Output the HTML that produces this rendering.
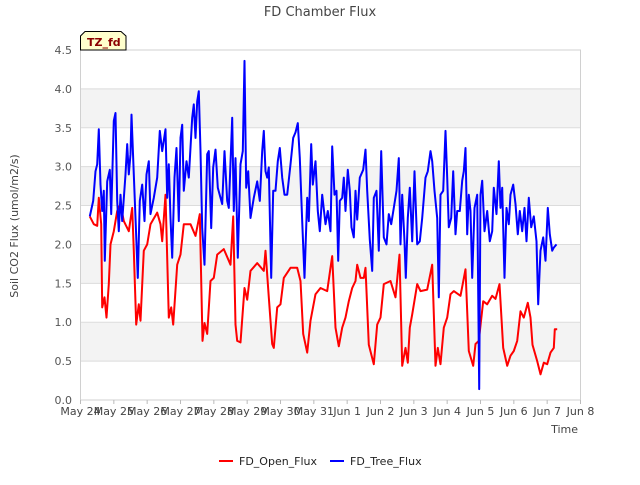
<!DOCTYPE html>
<html><head><meta charset="utf-8"><style>
body{margin:0;background:#fff;font-family:"Liberation Sans","DejaVu Sans",sans-serif;}
svg text{font-family:"DejaVu Sans","Liberation Sans",sans-serif;}
</style></head><body>
<svg id="chart" width="640" height="480" xmlns="http://www.w3.org/2000/svg">
<text x="320" y="16" text-anchor="middle" font-size="13" fill="#444">FD Chamber Flux</text>
<text transform="translate(18,226) rotate(-90)" text-anchor="middle" font-size="11" fill="#444">Soil CO2 Flux (umol/m2/s)</text>
<text x="578" y="433" text-anchor="end" font-size="11" fill="#444">Time</text>
<g id="bands"></g>
<g id="grid"></g>
<g id="yticks"></g>
<g id="xticks"></g>
<g id="series"></g>
<g>
<path d="M80.5,50 L80.5,36 L85,31.5 L121,31.5 L126,36 L126,50 Z" fill="#ffffcc" stroke="#000" stroke-width="1"/>
<text x="87" y="46" font-size="11" font-weight="bold" fill="#8b0000">TZ_fd</text>
</g>
<g>
<g><line x1="219" y1="461" x2="233" y2="461" stroke="#ff0000" stroke-width="2"/><text x="239" y="465" font-size="11" fill="#222">FD_Open_Flux</text></g>
<g><line x1="330" y1="461" x2="344" y2="461" stroke="#0000ff" stroke-width="2"/><text x="350" y="465" font-size="11" fill="#222">FD_Tree_Flux</text></g>
</g>
</svg>
<script>
const xTickLabels=["May 24","May 25","May 26","May 27","May 28","May 29","May 30","May 31","Jun 1","Jun 2","Jun 3","Jun 4","Jun 5","Jun 6","Jun 7","Jun 8"];
const yTickLabels=["0.0","0.5","1.0","1.5","2.0","2.5","3.0","3.5","4.0","4.5"];
const openDays=[0.28,0.40,0.50,0.55,0.62,0.65,0.72,0.78,0.85,0.90,1.00,1.10,1.20,1.30,1.45,1.55,1.60,1.67,1.75,1.80,1.90,2.00,2.10,2.30,2.40,2.45,2.55,2.65,2.72,2.78,2.90,3.00,3.10,3.30,3.45,3.58,3.66,3.72,3.80,3.90,4.00,4.10,4.30,4.50,4.58,4.65,4.70,4.80,4.92,5.00,5.10,5.30,5.50,5.55,5.65,5.75,5.80,5.90,6.00,6.10,6.30,6.50,6.60,6.68,6.80,6.90,7.05,7.20,7.40,7.50,7.55,7.65,7.75,7.85,7.95,8.05,8.15,8.25,8.30,8.40,8.50,8.55,8.65,8.80,8.90,9.00,9.10,9.30,9.45,9.57,9.65,9.75,9.82,9.88,9.95,10.10,10.20,10.40,10.55,10.65,10.72,10.80,10.90,11.00,11.10,11.20,11.40,11.55,11.65,11.78,11.85,11.95,12.08,12.20,12.35,12.45,12.57,12.68,12.80,12.90,13.00,13.10,13.20,13.30,13.42,13.50,13.56,13.70,13.80,13.90,14.00,14.10,14.20,14.23,14.30];
const openValues=[2.36,2.26,2.24,2.60,2.26,1.19,1.32,1.06,1.49,2.00,2.17,2.43,2.52,2.30,2.17,2.47,1.92,0.97,1.23,1.02,1.92,2.00,2.26,2.41,2.26,2.04,2.64,1.06,1.19,0.97,1.74,1.87,2.26,2.26,2.11,2.39,0.76,0.99,0.85,1.53,1.57,1.87,1.94,1.74,2.36,0.97,0.76,0.74,1.44,1.29,1.66,1.76,1.66,1.92,1.32,0.72,0.67,1.19,1.23,1.57,1.70,1.70,1.53,0.85,0.61,1.02,1.36,1.44,1.40,1.70,1.85,0.93,0.69,0.93,1.06,1.27,1.44,1.53,1.74,1.57,1.57,1.70,0.71,0.46,0.97,1.06,1.49,1.53,1.32,1.87,0.44,0.67,0.48,0.93,1.10,1.49,1.40,1.42,1.74,0.44,0.67,0.46,0.93,1.06,1.36,1.40,1.34,1.68,0.63,0.44,0.72,0.76,1.27,1.23,1.34,1.30,1.49,0.67,0.44,0.57,0.63,0.76,1.14,1.06,1.25,1.06,0.71,0.50,0.33,0.48,0.46,0.61,0.67,0.91,0.91];
const treeDays=[0.28,0.38,0.45,0.50,0.55,0.60,0.65,0.70,0.73,0.80,0.88,0.92,1.00,1.05,1.10,1.15,1.20,1.25,1.35,1.40,1.45,1.50,1.53,1.60,1.65,1.72,1.78,1.85,1.92,1.98,2.05,2.10,2.20,2.30,2.38,2.45,2.55,2.60,2.65,2.70,2.75,2.82,2.88,2.95,3.00,3.05,3.10,3.18,3.25,3.35,3.40,3.45,3.50,3.55,3.60,3.65,3.72,3.80,3.85,3.92,3.98,4.05,4.12,4.20,4.25,4.32,4.40,4.45,4.55,4.60,4.65,4.72,4.80,4.87,4.92,4.97,5.03,5.10,5.20,5.30,5.38,5.45,5.50,5.55,5.60,5.65,5.72,5.78,5.85,5.92,5.98,6.05,6.12,6.20,6.30,6.38,6.45,6.52,6.58,6.65,6.72,6.80,6.85,6.92,6.97,7.05,7.12,7.18,7.25,7.35,7.42,7.50,7.55,7.62,7.68,7.73,7.78,7.85,7.90,7.95,8.02,8.08,8.13,8.20,8.25,8.30,8.38,8.48,8.55,8.60,8.68,8.75,8.80,8.88,8.95,9.02,9.10,9.18,9.25,9.32,9.40,9.48,9.55,9.60,9.65,9.72,9.76,9.82,9.88,9.95,10.02,10.10,10.18,10.25,10.35,10.42,10.50,10.55,10.62,10.70,10.75,10.80,10.88,10.95,11.00,11.05,11.12,11.18,11.25,11.30,11.38,11.45,11.50,11.55,11.60,11.65,11.70,11.75,11.82,11.90,11.96,12.00,12.05,12.12,12.20,12.28,12.35,12.40,12.48,12.55,12.60,12.65,12.72,12.78,12.85,12.90,12.98,13.05,13.12,13.18,13.25,13.32,13.38,13.45,13.52,13.60,13.68,13.73,13.80,13.88,13.95,14.02,14.08,14.15,14.20,14.28];
const treeValues=[2.36,2.56,2.94,3.03,3.48,2.77,2.43,2.69,1.79,2.81,2.96,2.39,3.59,3.69,2.56,2.17,2.64,2.30,2.90,3.29,2.90,3.16,3.67,2.90,2.34,1.57,2.56,2.77,2.30,2.90,3.07,2.39,2.60,2.86,3.46,3.20,3.48,2.60,3.03,2.34,1.83,2.86,3.24,2.30,3.37,3.54,2.69,3.07,2.86,3.63,3.80,3.37,3.84,3.97,3.20,2.21,1.74,3.16,3.20,2.21,2.99,3.22,2.73,2.60,2.52,3.20,2.56,2.47,3.63,2.43,3.11,1.83,3.03,3.20,4.36,2.73,2.94,2.34,2.60,2.81,2.56,3.20,3.46,2.94,2.86,2.99,1.57,2.69,2.69,3.07,3.24,2.86,2.64,2.64,3.03,3.37,3.44,3.56,3.11,2.30,1.57,2.60,2.30,3.29,2.77,3.07,2.43,2.17,2.64,2.26,2.43,2.17,3.26,2.64,2.69,1.79,2.56,2.60,2.86,2.43,2.96,2.69,2.22,2.09,2.69,2.32,2.86,2.96,3.22,2.69,2.06,1.66,2.60,2.69,1.92,3.20,2.09,2.00,2.39,2.26,2.47,2.69,3.11,2.00,2.64,2.04,1.57,2.34,2.73,2.04,2.94,2.00,2.04,2.34,2.86,2.94,3.20,3.07,2.69,2.34,1.32,2.64,2.69,3.46,2.86,2.22,2.34,2.94,2.13,2.43,2.43,2.82,2.94,3.24,2.13,2.64,2.43,1.57,2.47,2.64,0.14,2.64,2.82,2.17,2.43,2.04,2.17,2.73,2.39,3.07,2.47,2.73,1.57,2.47,2.26,2.64,2.77,2.52,2.13,2.43,2.17,2.47,2.04,2.60,2.22,2.36,2.04,1.23,1.92,2.09,1.79,2.47,2.13,1.92,1.96,2.00];

const NS="http://www.w3.org/2000/svg";
const L=80.5,R=580.5,T=50,B=400;
const x=d=>L+d*(R-L)/15;
const y=v=>B-v*(B-T)/4.5;
function mk(tag,attrs,parent){const e=document.createElementNS(NS,tag);for(const k in attrs)e.setAttribute(k,attrs[k]);parent.appendChild(e);return e;}
const bands=document.getElementById('bands'),grid=document.getElementById('grid'),yt=document.getElementById('yticks'),xt=document.getElementById('xticks'),ser=document.getElementById('series');
mk('rect',{x:L,y:T,width:R-L,height:B-T,fill:'#fff'},bands);
for(let i=0;i<yTickLabels.length;i++){
  const v=i*0.5;
  if(i%2===1&&i<9){const r=mk('rect',{x:L,y:y(v+0.5),width:R-L,height:y(v)-y(v+0.5),fill:'#f3f3f3'},bands);
    
    }
  const g=mk('line',{x1:L,x2:R,y1:y(v),y2:y(v),stroke:'#dcdcdc','stroke-width':1},grid);
  
  
  const t=mk('text',{x:72,y:y(v)+4,'text-anchor':'end','font-size':11,fill:'#555'},yt);
  t.textContent=yTickLabels[i];
  
  
}
mk('rect',{x:L,y:T,width:R-L,height:B-T,fill:'none',stroke:'#d0d0d0','stroke-width':1},grid);
for(let i=0;i<xTickLabels.length;i++){
  const tk=mk('line',{x1:x(i),x2:x(i),y1:B,y2:B+4,stroke:'#bbb'},xt);
  
  
  const t=mk('text',{x:x(i),y:B+15,'text-anchor':'middle','font-size':11,fill:'#444'},xt);
  t.textContent=xTickLabels[i];
  
  
}
function line(days,vals,color,name){
  const d=days.map((dd,i)=>(i?'L':'M')+x(dd).toFixed(1)+','+y(vals[i]).toFixed(1)).join(' ');
  const p=mk('path',{d:d,fill:'none',stroke:color,'stroke-width':2,'stroke-linejoin':'round'},ser);
  
  
}
line(openDays,openValues,'#ff0000','fd-open-flux-line');
line(treeDays,treeValues,'#0000ff','fd-tree-flux-line');
</script>
</body></html>
